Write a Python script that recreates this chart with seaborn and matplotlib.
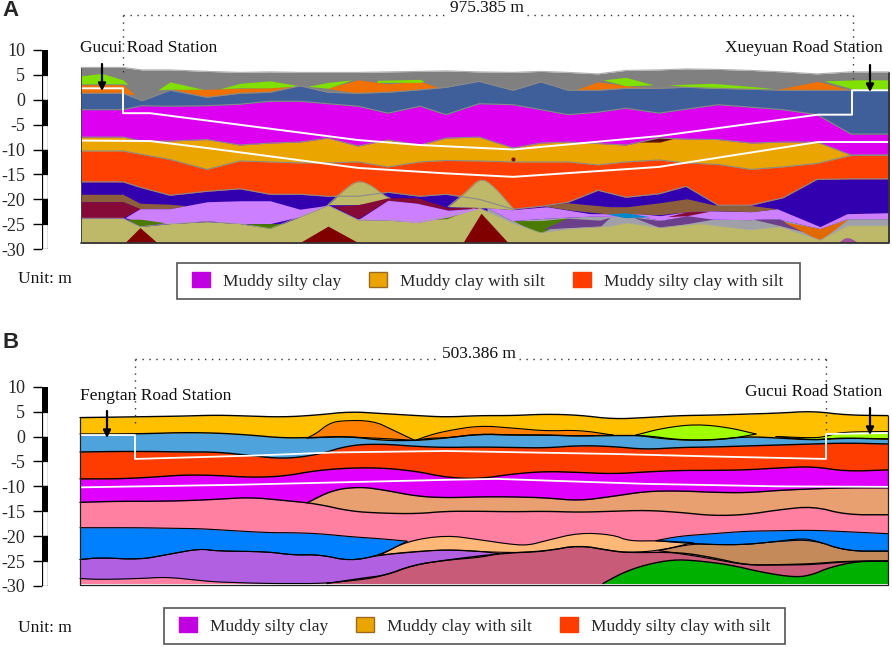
# Two geological cross-sections between metro stations, depths in metres

import numpy as np
import matplotlib
matplotlib.use("Agg")
import matplotlib.pyplot as plt
from matplotlib.patches import Patch, Rectangle
import seaborn as sns

# ---- panel A: main strata, chainage in section units ----
a_x = [81, 123, 142, 170, 207, 240, 270, 300, 328, 358, 388, 420, 446, 479, 513, 541, 568, 598, 626, 659, 686, 718, 751, 783, 817, 851, 889]
a_gray = [6.5, 6.5, 6.0, 6.0, 5.7, 5.5, 5.6, 5.5, 5.5, 5.5, 5.6, 5.7, 5.8, 5.6, 5.5, 5.7, 5.5, 5.2, 5.9, 6.0, 6.2, 6.1, 5.9, 5.6, 5.2, 5.6, 5.6]
a_slate = [1.3, 1.3, -0.2, 1.9, 0.5, 1.3, 1.5, 2.8, 1.5, 1.3, 1.5, 2.0, 2.5, 3.7, 1.9, 3.6, 1.9, 1.9, 2.3, 2.3, 2.5, 2.3, 2.1, 1.9, 1.9, 1.9, 1.9]
a_magenta = [-2, -2, -1.2, -1.3, -1.2, -0.9, -0.3, -0.3, -0.8, -1.3, -2.7, -1.3, -3.0, -0.8, -1.0, -2.0, -3.0, -2.5, -1.7, -2.7, -1.9, -1.0, -1.5, -2.0, -3.0, -6.9, -6.9]
a_amber = [-7.5, -7.5, -8.3, -8.3, -8.0, -9.1, -8.7, -8.5, -7.7, -9.3, -8.1, -9.1, -7.7, -7.5, -9.7, -8.7, -8.5, -8.8, -9.1, -7.7, -7.9, -8.0, -8.7, -8.5, -8.5, -11.1, -11.1]
a_red = [-10.3, -10.3, -11, -12, -14, -12.3, -12.5, -12.7, -12.7, -12.5, -13.5, -12.5, -12.2, -12.3, -12.5, -12.5, -12.5, -13.1, -12.5, -12.1, -12.7, -13, -14, -13.5, -12.8, -11.2, -11.2]
a_indigo = [-16.5, -16.5, -17.7, -19.2, -18.4, -17.9, -19, -19, -19.4, -19.4, -18.6, -19.4, -19, -20, -22, -21.4, -20.6, -18.2, -19.6, -18.9, -17.4, -21.2, -21.2, -19.7, -16, -15.9, -15.9]
a_olive_x = [81, 123, 140, 170, 207, 240, 270, 300, 328, 358, 388, 418, 448, 478, 512, 540, 570, 610, 627, 660, 700, 750, 780, 820, 847, 889]
a_olive = [-23.8, -23.8, -25.5, -24.9, -24.5, -24.9, -25.9, -23.5, -21.2, -24.1, -24.2, -24.6, -23.4, -21.6, -24.7, -26.7, -25.9, -25.4, -24.7, -25.7, -24.9, -26.1, -25.5, -28.2, -25.3, -25.3]

# panel A: lenses near the surface
a_lime1_x, a_lime1_top, a_lime1_low = [81, 102, 123, 128], [4.8, 5.3, 4, 3], [3.2, 3.2, 3.2, 3]
a_or1_x, a_or1_top, a_or1_low = [81, 123, 135], [3, 3, 1], [1.3, 1.3, 1]
a_lime2_x, a_lime2_top, a_lime2_low = [158, 170, 203], [2, 3.6, 2.1], [2, 2.1, 2.1]
a_or2_x, a_or2_top, a_or2_low = [173, 207, 240, 270, 300], [2.1, 2.1, 2.3, 2.4, 2.8], [2.1, 0.5, 1.3, 1.5, 2.8]
a_lime3_x, a_lime3_top, a_lime3_low = [220, 240, 270, 300], [2.2, 3.3, 3.8, 2.8], [2.2, 2.4, 2.4, 2.8]
a_lime4_x, a_lime4_top, a_lime4_low = [308, 328, 352], [2.7, 3.5, 4], [2.7, 2.3, 4]
a_or3_x, a_or3_top, a_or3_low = [327, 358, 388, 420, 441], [2.3, 4, 3.2, 3.7, 2.3], [2.3, 1.3, 1.5, 2, 2.3]
a_lime5_x, a_lime5_top, a_lime5_low = [377, 420, 424], [3.9, 4.1, 3.7], [3.5, 3.5, 3.7]
a_or4_x, a_or4_top, a_or4_low = [574, 598, 635, 672], [1.9, 3.6, 2.6, 2.3], [1.9, 1.9, 2.3, 2.3]
a_lime6_x, a_lime6_top, a_lime6_low = [603, 626, 653], [4, 4.5, 3], [4, 2.8, 3]
a_lime7_x, a_lime7_top, a_lime7_low = [668, 713, 773], [3, 3.3, 2.3], [3, 2.2, 2.3]
a_or5_x, a_or5_top, a_or5_low = [775, 818, 851], [2, 3.7, 1.9], [2, 1.9, 1.9]
a_lime8_x, a_lime8_top, a_lime8_low = [824, 856, 889], [3.8, 4, 4], [3.8, 2, 2]

# panel A: lenses at depth
a_brown1_x, a_brown1_top, a_brown1_low = [81, 123, 140, 170, 187], [-19, -19, -20.8, -21, -21.3], [-20.5, -20.5, -21.9, -21.9, -21.3]
a_maroon1_x, a_maroon1_top, a_maroon1_low = [81, 123, 140], [-20.5, -20.5, -21.9], [-23.7, -23.7, -21.9]
a_lilac1_x = [125, 140, 170, 207, 240, 270, 300, 328]
a_lilac1_top = [-23.7, -21.9, -21.9, -20.5, -20.3, -20.3, -22, -21.2]
a_lilac1_low = [-23.7, -24.7, -24.9, -24.3, -24.9, -24.9, -23.5, -21.2]
a_moss1_x, a_moss1_top, a_moss1_low = [127, 140, 165], [-24, -24, -24.7], [-24, -25.5, -24.7]
a_moss2_x, a_moss2_top, a_moss2_low = [247, 270, 285], [-24.9, -24.9, -24.9], [-24.9, -26.5, -24.9]
a_moss3_x, a_moss3_top, a_moss3_low = [430, 447, 463], [-24.1, -23.3, -22.6], [-24.1, -23.9, -22.6]
a_moss4_x, a_moss4_top, a_moss4_low = [513, 540, 567], [-24.3, -24.3, -23.8], [-24.3, -27, -23.8]
a_lilac2_x = [487, 512, 547, 590, 640, 660, 687, 707, 750, 777, 820, 847, 889]
a_lilac2_top = [-21.7, -22.1, -21.5, -22.9, -22.9, -23.3, -22.5, -22.3, -22.5, -21.9, -25.5, -22.9, -22.7]
a_lilac2_low = [-21.7, -24.3, -23.8, -23.4, -23.5, -24.2, -23.5, -24, -24.1, -23.9, -25.9, -23.9, -23.9]
a_brown2_x = [543, 567, 610, 627, 660, 687, 713, 753, 777]
a_brown2_top = [-21.3, -20.7, -21.5, -21.5, -20.7, -19.9, -21.1, -21.3, -21.9]
a_brown2_low = [-21.3, -22.1, -23, -22.9, -23.1, -22.5, -22.3, -22.5, -21.9]
a_violet1_x, a_violet1_top, a_violet1_low = [543, 567, 600, 610], [-26, -23.8, -24.2, -23.6], [-26, -25.7, -25.5, -23.6]
a_violet3_x, a_violet3_top, a_violet3_low = [633, 660, 687, 713], [-23.6, -24.3, -23.3, -24], [-23.6, -25.7, -24.9, -24]
a_violet4_x, a_violet4_top, a_violet4_low = [753, 780, 807], [-24, -24, -26.7], [-24, -25.3, -26.7]
a_cyan_x, a_cyan_top, a_cyan_low = [607, 625, 650], [-23, -22.7, -23.5], [-23, -23.7, -23.5]
a_wine_x, a_wine_top, a_wine_low = [667, 687, 710], [-23.5, -22.5, -22.4], [-23.5, -23.3, -22.4]
a_rust_x, a_rust_top, a_rust_low = [783, 820, 848], [-24.5, -25.9, -24], [-24.5, -28.3, -24]
a_crest1_x, a_crest1_top, a_crest1_low = [328, 343, 357, 370, 383, 390], [-21.1, -18.3, -16.2, -17, -19.1, -19.8], [-21.1, -21.1, -21.1, -20.8, -20, -19.8]
a_crest2_x, a_crest2_top, a_crest2_low = [448, 467, 480, 493, 514], [-21.5, -18.4, -15.7, -17.2, -22.1], [-21.5, -21.6, -21.7, -21.8, -22.1]
a_maroon2_x = [333, 358, 388, 417, 448, 478]
a_maroon2_top = [-21.4, -21.1, -19.7, -19.7, -21.7, -21.6]
a_maroon2_low = [-21.4, -23.9, -20.2, -20.8, -22.2, -21.8]
a_lilac3_x = [358, 388, 417, 448, 478]
a_lilac3_top = [-24.1, -20.2, -20.8, -22.2, -21.8]
a_lilac3_low = [-24.1, -24.2, -24.7, -23.6, -21.9]
a_peak1_x, a_peak1_top = [125, 140, 157], [-28.7, -25.7, -28.7]
a_peak2_x, a_peak2_top = [300, 328, 358], [-28.7, -25.4, -28.7]
a_peak3_x, a_peak3_top = [463, 481, 508], [-28.7, -22.8, -28.7]
a_knob_x, a_knob_top = [838, 847, 858], [-28.7, -27.4, -28.7]
a_sliver_x, a_sliver_top, a_sliver_low = [639, 660, 675], [-8.5, -7.5, -7.7], [-8.5, -8.5, -7.7]

# panel A: tunnel lines
a_tun1_x = [81, 123, 123, 150, 358, 420, 513, 659, 818, 852, 852, 889]
a_tun1_y = [2.3, 2.3, -2.7, -2.7, -8.1, -9.1, -10, -7.3, -3, -3, 1.9, 1.9]
a_tun2_x = [81, 150, 207, 358, 446, 513, 659, 818, 889]
a_tun2_y = [-8.2, -8.3, -9.7, -13.7, -14.8, -15.5, -13.5, -8.5, -8.5]

# ---- panel B: main strata ----
b_x = [80, 117, 150, 183, 217, 250, 283, 317, 350, 383, 417, 446, 479, 513, 546, 579, 613, 646, 679, 713, 746, 779, 813, 846, 888]
b_yellow = [3.8, 3.9, 4, 4.1, 4.3, 4.1, 3.9, 4.3, 5, 4.6, 4.2, 3.9, 4.2, 4.2, 4.5, 4.3, 3.5, 3.8, 4.2, 4.3, 4.5, 4.7, 5.1, 4.3, 4.2]
b_sky = [0.5, 0.5, 0.6, 0.8, 0.7, 0.3, -0.3, -0.2, 0, -0.8, -0.8, -0.3, 0.5, 0.3, 0.3, 0.1, 0.2, 0.2, -0.7, -0.7, 0, -0.3, -0.7, -0.3, -0.5]
b_red = [-3.1, -3, -3, -3.1, -3.1, -3.8, -4.5, -3.7, -1.7, -1.5, -2, -2.2, -2.1, -2.2, -2.3, -1.8, -2, -2.6, -2.2, -2.1, -1.9, -1.7, -1.5, -1.3, -1.5]
b_magenta = [-8.5, -8.5, -8.2, -7.7, -7.8, -8.2, -8, -6.8, -6.3, -6.3, -7, -8.2, -8.5, -7.5, -7, -7.2, -7.5, -7.1, -6.8, -6.8, -6.7, -6.3, -6, -7, -6.7]
b_pink = [-13.2, -13, -13, -12.9, -12.6, -12.2, -12.8, -13.5, -15, -15.4, -15.5, -15, -15, -15.1, -15, -15.2, -15, -14.8, -15.2, -15.9, -15.7, -14.7, -14, -15.7, -15.7]
b_tan_x = [307, 333, 360, 383, 417, 446, 479, 513, 546, 579, 613, 646, 679, 713, 746, 779, 813, 846, 888]
b_tan = [-13.3, -10.7, -10.1, -10.7, -12, -12.3, -12.1, -12.1, -12.3, -12.9, -12, -11, -10.9, -11.2, -11.3, -10.8, -10.5, -10.3, -10.3]

# panel B: lenses
b_or1_x, b_or1_top, b_or1_low = [307, 317, 328, 340, 373, 393, 415], [-0.3, 0.7, 2.5, 3.2, 3.2, 1.3, -0.8], [-0.3, -0.2, -0.1, 0, -0.3, -0.5, -0.8]
b_or2_x, b_or2_top, b_or2_low = [415, 430, 446, 479, 513, 546, 579, 613], [-0.8, 0.3, 1.1, 2.2, 1.7, 1.1, 1.3, 0.3], [-0.8, -0.3, -0.3, 0.5, 0.3, 0.3, 0.1, 0.3]
b_lime1_x, b_lime1_top, b_lime1_low = [636, 663, 696, 729, 756], [0.3, 1.7, 2.5, 1.8, 0.5], [0.3, -0.5, -0.8, -0.5, 0.5]
b_lime2_x, b_lime2_top, b_lime2_low = [776, 813, 826, 840, 888], [0, -0.3, 0, 0.9, 1], [0, -0.7, -0.5, -0.3, -0.5]
b_blue1_x = [80, 100, 140, 167, 200, 217, 267, 293, 320, 350, 380, 407]
b_blue1_top = [-18.3, -18.3, -18.3, -18.4, -18.5, -18.7, -19.3, -19.3, -19.5, -20.1, -20.5, -21]
b_blue1_low = [-24.7, -24.3, -24.7, -23.7, -22.5, -23, -23.1, -23.8, -23.7, -25, -23.8, -21]
b_purple_x = [80, 100, 140, 167, 200, 217, 267, 293, 320, 350, 380, 413, 446, 479, 499]
b_purple_top = [-24.7, -24.3, -24.7, -23.7, -22.5, -23, -23.1, -23.8, -23.7, -25, -23.8, -23.2, -22.7, -23, -23.5]
b_purple_low = [-28.5, -28.7, -28.5, -28.2, -28.9, -29.2, -29.5, -29.5, -29.5, -29, -28.2, -25.8, -24.8, -24.3, -23.5]
b_rose_x = [327, 360, 387, 413, 446, 499, 546, 579, 613, 629, 679, 713, 746, 779, 813, 846, 888]
b_rose = [-29.5, -28.5, -27.8, -25.8, -24.8, -23.5, -23, -21.8, -23, -23.3, -23.2, -24.3, -25.8, -25.8, -25.7, -25.1, -25]
b_peach_x = [380, 407, 446, 479, 513, 529, 546, 579, 613, 629, 659, 693]
b_peach_top = [-23.8, -21, -19.8, -20.7, -21.7, -21.8, -20.9, -19.3, -19.7, -21, -20.9, -21.3]
b_peach_low = [-23.8, -23.2, -22.7, -23.1, -23.3, -23.2, -23, -21.8, -23, -23.3, -22.9, -21.3]
b_brown_x = [659, 693, 713, 746, 779, 799, 813, 846, 888]
b_brown_top = [-22.9, -21.5, -21.7, -21.7, -21, -20.5, -20.7, -23, -23]
b_brown_low = [-22.9, -23.9, -24.6, -25.8, -25.7, -25.6, -25.5, -25, -25]
b_blue2_x = [656, 679, 713, 746, 779, 813, 846, 888]
b_blue2_top = [-20.9, -20, -19.5, -19, -18.9, -18.8, -19.1, -19.5]
b_blue2_low = [-20.9, -21.3, -21.7, -21.7, -21, -20.7, -23, -23]
b_green_x = [603, 623, 646, 673, 696, 729, 763, 796, 813, 829, 858, 888]
b_green = [-29.5, -27.3, -25.7, -24.7, -24.9, -25.7, -27.3, -28.3, -27.7, -26.3, -25, -25]

# panel B: tunnel lines
b_tun1_x = [80, 135, 135, 257, 333, 446, 613, 713, 826, 826, 888]
b_tun1_y = [0.3, 0.3, -4.5, -3.8, -3.2, -2.9, -3.5, -4, -4.5, 0.5, 0.7]
b_tun2_x = [80, 233, 446, 496, 646, 779, 888]
b_tun2_y = [-10.2, -9.7, -8.7, -8.5, -9.5, -10, -10.1]

# scale and legend
scale_edges = [10, 5, 0, -5, -10, -15, -20, -25, -30]
scale_colors = ['black', 'white', 'black', 'white', 'black', 'white', 'black', 'white']
scale_ticks = [10, 5, 0, -5, -10, -15, -20, -25, -30]
legend_names = ['Muddy silty clay', 'Muddy clay with silt', 'Muddy silty clay with silt']
legend_colors = ['#C000E0', '#EBA500', '#FF3C00']
legend_edges = ['#C000E0', '#9A6A20', '#FF3C00']

W, H = 892, 647
A_BOTTOM, B_BOTTOM = -28.7, -29.5

sns.set_style("white")
plt.rcParams['font.family'] = ['Liberation Serif', 'DejaVu Sans']
plt.rcParams['axes.unicode_minus'] = False

fig = plt.figure(figsize=(W / 100, H / 100), dpi=100)


def px_axes(left, top, right, bottom):
    return fig.add_axes([left / W, 1 - bottom / H, (right - left) / W, (bottom - top) / H])


def smooth(x, y, n=2):
    # corner cutting so the hand-drawn looking strata stay round
    pts = np.column_stack([x, y]).astype(float)
    for _ in range(n):
        mid = np.empty((2 * (len(pts) - 1), 2))
        mid[0::2] = 0.75 * pts[:-1] + 0.25 * pts[1:]
        mid[1::2] = 0.25 * pts[:-1] + 0.75 * pts[1:]
        pts = np.vstack([pts[0], mid, pts[-1]])
    return pts[:, 0], pts[:, 1]


def edge(ax, x, y, color, lw):
    sns.lineplot(x=x, y=y, color=color, linewidth=lw, estimator=None, sort=False,
                 legend=False, ax=ax)


def layer(ax, x, top, color, bottom, line='#8a8a8a', lw=0.8, round_it=False):
    if round_it:
        x, top = smooth(x, top)
    ax.fill_between(x, top, bottom, color=color, linewidth=0)
    edge(ax, x, top, line, lw)


def lens(ax, x, top, low, color, line=None, lw=0.8, round_it=False):
    if round_it:
        xs, top = smooth(x, top)
        _, low = smooth(x, low)
        x = xs
    ax.fill_between(x, top, low, color=color, linewidth=0)
    if line:
        edge(ax, x, top, line, lw)
        edge(ax, x, low, line, lw)


def setup(ax):
    ax.set_xlim(0, W)
    ax.set_ylim(-30, 10)
    ax.axis('off')
    ax.patch.set_alpha(0)


def ruler(ax):
    for i, c in enumerate(scale_colors):
        ax.bar(0, scale_edges[i] - scale_edges[i + 1], bottom=scale_edges[i + 1], width=1,
               color=c, edgecolor='black', linewidth=0.9)
    ax.set_xlim(-0.5, 0.5)
    ax.set_ylim(-30, 10)
    ax.set_xticks([])
    ax.set_yticks(scale_ticks)
    ax.tick_params(axis='y', length=6.5, width=1, color='black', labelsize=13, pad=5.5, left=True)
    for s in ax.spines.values():
        s.set_visible(False)


# ---- panel A ----
ax_a = px_axes(0, 50, W, 249)
setup(ax_a)
GRAY, LIME, ORANGE = '#808080', '#80E000', '#F07000'
layer(ax_a, a_x, a_gray, GRAY, A_BOTTOM, line='#b0b0b0')
for x, t, l in [(a_or1_x, a_or1_top, a_or1_low), (a_or2_x, a_or2_top, a_or2_low),
                (a_or3_x, a_or3_top, a_or3_low), (a_or4_x, a_or4_top, a_or4_low),
                (a_or5_x, a_or5_top, a_or5_low)]:
    lens(ax_a, x, t, l, ORANGE)
for x, t, l in [(a_lime1_x, a_lime1_top, a_lime1_low), (a_lime2_x, a_lime2_top, a_lime2_low),
                (a_lime3_x, a_lime3_top, a_lime3_low), (a_lime4_x, a_lime4_top, a_lime4_low),
                (a_lime5_x, a_lime5_top, a_lime5_low), (a_lime6_x, a_lime6_top, a_lime6_low),
                (a_lime7_x, a_lime7_top, a_lime7_low), (a_lime8_x, a_lime8_top, a_lime8_low)]:
    lens(ax_a, x, t, l, LIME)
layer(ax_a, a_x, a_slate, '#3F5F9B', A_BOTTOM)
layer(ax_a, a_x, a_magenta, '#DD00F0', A_BOTTOM)
layer(ax_a, a_x, a_amber, '#EBA500', A_BOTTOM)
layer(ax_a, a_x, a_red, '#FF4000', A_BOTTOM)
layer(ax_a, a_x, a_indigo, '#3300B0', A_BOTTOM)
lens(ax_a, a_brown1_x, a_brown1_top, a_brown1_low, '#8B5E3C')
lens(ax_a, a_maroon1_x, a_maroon1_top, a_maroon1_low, '#850A38')
lens(ax_a, a_lilac1_x, a_lilac1_top, a_lilac1_low, '#CC80FF')
lens(ax_a, a_moss1_x, a_moss1_top, a_moss1_low, '#4A7A00')
lens(ax_a, a_moss2_x, a_moss2_top, a_moss2_low, '#4A7A00')
# grey clay under the thin lilac strip
ax_a.fill_between(a_lilac2_x, a_lilac2_low, A_BOTTOM, color='#A0A0A8', linewidth=0)
lens(ax_a, a_lilac2_x, a_lilac2_top, a_lilac2_low, '#CC80FF')
lens(ax_a, a_brown2_x, a_brown2_top, a_brown2_low, '#8B5E3C')
lens(ax_a, a_moss4_x, a_moss4_top, a_moss4_low, '#4A7A00')
for x, t, l in [(a_violet1_x, a_violet1_top, a_violet1_low), (a_violet3_x, a_violet3_top, a_violet3_low),
                (a_violet4_x, a_violet4_top, a_violet4_low)]:
    lens(ax_a, x, t, l, '#6B3F8A')
lens(ax_a, a_cyan_x, a_cyan_top, a_cyan_low, '#0088CC')
lens(ax_a, a_wine_x, a_wine_top, a_wine_low, '#850A38')
lens(ax_a, a_rust_x, a_rust_top, a_rust_low, '#E06A00')
layer(ax_a, a_olive_x, a_olive, '#BDB968', A_BOTTOM, line='#a8a8a0', lw=0.5)
lens(ax_a, a_moss3_x, a_moss3_top, a_moss3_low, '#4A7A00')
# the two crests have a grey outline on top only
for x, t, l in [(a_crest1_x, a_crest1_top, a_crest1_low), (a_crest2_x, a_crest2_top, a_crest2_low)]:
    lens(ax_a, x, t, l, '#BDB968', round_it=True)
    edge(ax_a, *smooth(x, t), '#9a9a80', 0.7)
lens(ax_a, a_maroon2_x, a_maroon2_top, a_maroon2_low, '#850A38')
lens(ax_a, a_lilac3_x, a_lilac3_top, a_lilac3_low, '#CC80FF')
for x, t in [(a_peak1_x, a_peak1_top), (a_peak2_x, a_peak2_top), (a_peak3_x, a_peak3_top)]:
    ax_a.fill_between(x, t, A_BOTTOM, color='#800000', linewidth=0)
lens(ax_a, a_knob_x, a_knob_top, [A_BOTTOM] * 3, '#A0509A', round_it=True)
lens(ax_a, a_sliver_x, a_sliver_top, a_sliver_low, '#5A1010')
ax_a.scatter([513], [-12], s=9, color='#7A1020', linewidths=0, zorder=3)
edge(ax_a, a_tun1_x, a_tun1_y, 'white', 1.4)
edge(ax_a, a_tun2_x, a_tun2_y, 'white', 1.4)

# ---- panel B ----
ax_b = px_axes(0, 386.7, W, 586)
setup(ax_b)
K = 'black'
layer(ax_b, b_x, b_yellow, '#FFC000', B_BOTTOM, line=K, lw=1, round_it=True)
lens(ax_b, b_or1_x, b_or1_top, b_or1_low, '#FF8000', line=K, round_it=True)
lens(ax_b, b_or2_x, b_or2_top, b_or2_low, '#FF8000', line=K, round_it=True)
layer(ax_b, b_x, b_sky, '#4FA3DC', B_BOTTOM, line=K, lw=1, round_it=True)
lens(ax_b, b_lime1_x, b_lime1_top, b_lime1_low, '#A0FF00', line=K, round_it=True)
lens(ax_b, b_lime2_x, b_lime2_top, b_lime2_low, '#A0FF00', line=K, round_it=True)
layer(ax_b, b_x, b_red, '#FF3C00', B_BOTTOM, line=K, lw=1, round_it=True)
layer(ax_b, b_x, b_magenta, '#E000FF', B_BOTTOM, line=K, lw=1, round_it=True)
layer(ax_b, b_tan_x, b_tan, '#E8A070', B_BOTTOM, line=K, lw=1, round_it=True)
layer(ax_b, b_x, b_pink, '#FF80A0', B_BOTTOM, line=K, lw=1, round_it=True)
lens(ax_b, b_blue1_x, b_blue1_top, b_blue1_low, '#0080FF', line=K, round_it=True)
lens(ax_b, b_purple_x, b_purple_top, b_purple_low, '#B060E0', line=K, round_it=True)
layer(ax_b, b_rose_x, b_rose, '#C85C78', B_BOTTOM, line=K, lw=1, round_it=True)
lens(ax_b, b_peach_x, b_peach_top, b_peach_low, '#FFB878', line=K, round_it=True)
lens(ax_b, b_brown_x, b_brown_top, b_brown_low, '#C48A5A', line=K, round_it=True)
lens(ax_b, b_blue2_x, b_blue2_top, b_blue2_low, '#0080FF', line=K, round_it=True)
layer(ax_b, b_green_x, b_green, '#00B000', B_BOTTOM, line=K, lw=1, round_it=True)
edge(ax_b, b_tun1_x, b_tun1_y, 'white', 1.3)
edge(ax_b, b_tun2_x, b_tun2_y, 'white', 1.3)

# depth rulers
ruler(px_axes(42, 50, 48, 249))
ruler(px_axes(42, 386.7, 48, 586))

# annotations in figure pixels
over = fig.add_axes([0, 0, 1, 1])
over.set_xlim(0, W)
over.set_ylim(H, 0)
over.axis('off')
over.patch.set_alpha(0)

# frames of the two sections
over.plot([81, 889, 889], [243, 243, 73], color='#333333', lw=1.3)
over.plot([81, 81], [68, 243], color='#444444', lw=0.7)
over.plot([80, 80, 888, 888], [418, 584.5, 584.5, 415.5], color='#222222', lw=0.9)

DOT = dict(color='#333333', lw=1, linestyle=(0, (1, 4)))
over.plot([123, 446], [14.5, 14.5], **DOT)
over.plot([527, 853], [14.5, 14.5], **DOT)
over.plot([123, 123], [14.5, 72], **DOT)
over.plot([853, 853], [14.5, 80], **DOT)
over.plot([135, 438], [359, 359], **DOT)
over.plot([519, 826], [359, 359], **DOT)
over.plot([135, 135], [359, 426], **DOT)
over.plot([826, 826], [359, 434], **DOT)

TXT = dict(fontsize=12.5, color='#111111', va='center')
over.text(80, 48, 'Gucui Road Station', ha='left', **TXT)
over.text(883, 48, 'Xueyuan Road Station', ha='right', **TXT)
over.text(80, 395.5, 'Fengtan Road Station', ha='left', **TXT)
over.text(882, 392.5, 'Gucui Road Station', ha='right', **TXT)
over.text(487, 7.5, '975.385 m', ha='center', **TXT)
over.text(479, 353.5, '503.386 m', ha='center', **TXT)
over.text(18, 279, 'Unit: m', ha='left', **TXT)
over.text(18, 628, 'Unit: m', ha='left', **TXT)
over.text(2, 10, 'A', fontsize=16, fontweight='bold', family='Liberation Sans', va='center')
over.text(2, 342, 'B', fontsize=16, fontweight='bold', family='Liberation Sans', va='center')

for x0, y0, y1 in [(102, 64, 91), (870, 65, 92), (107, 411, 438), (870, 408, 435)]:
    over.annotate('', xy=(x0, y1), xytext=(x0, y0),
                  arrowprops=dict(arrowstyle='-|>', color='black', lw=1.6, mutation_scale=11,
                                  shrinkA=0, shrinkB=0))

# legend boxes, frame drawn apart because its padding is wider than tall
over.add_patch(Rectangle((177, 263), 623, 36, facecolor='white', edgecolor='#555555', lw=1.2))
over.add_patch(Rectangle((164, 608), 621, 36, facecolor='white', edgecolor='#555555', lw=1.2))
handles = [Patch(facecolor=c, edgecolor=e, label=n)
           for c, e, n in zip(legend_colors, legend_edges, legend_names)]
LEG = dict(handles=handles, ncol=3, loc='center', bbox_transform=over.transData, frameon=False,
           fontsize=12.5, handlelength=1.05, handleheight=0.9, handletextpad=0.75,
           columnspacing=1.6, borderpad=0, labelspacing=0)
leg_a = over.legend(bbox_to_anchor=(487.5, 281), **LEG)
over.add_artist(leg_a)
over.legend(bbox_to_anchor=(474.5, 626), **LEG)

fig.savefig('out.png', dpi=100)
